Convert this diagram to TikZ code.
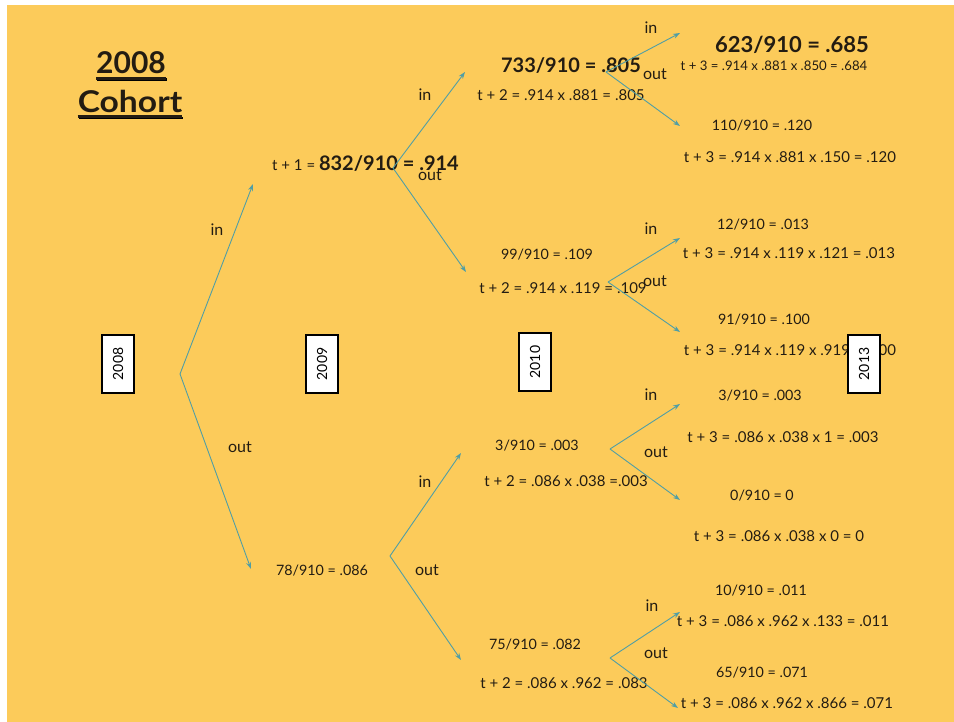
\documentclass[tikz,border=0pt]{standalone}
\usepackage{fontspec}
\setmainfont{Lato}
\usetikzlibrary{arrows.meta}
\definecolor{bg}{RGB}{252,203,90}
\definecolor{ink}{RGB}{35,28,18}
\definecolor{arr}{RGB}{80,158,165}
\definecolor{shade}{RGB}{150,125,70}
\begin{document}
\begin{tikzpicture}[x=1pt,y=-1pt,
  small/.style={font=\fontsize{15}{18}\selectfont, text=ink, inner sep=0pt},
  frac/.style={font=\fontsize{14.3}{17}\selectfont, text=ink, inner sep=0pt},
  tiny/.style={font=\fontsize{13.2}{16}\selectfont, text=ink, inner sep=0pt},
  bigA/.style={font=\fontsize{20}{24}\selectfont\bfseries, text=ink, inner sep=0pt},
  bigB/.style={font=\fontsize{22}{26}\selectfont\bfseries, text=ink, inner sep=0pt},
  lab/.style={font=\fontsize{16}{19}\selectfont, text=ink, inner sep=0pt},
  titletext/.style={font=\fontsize{30}{34}\selectfont\bfseries, text=ink, inner sep=0pt},
  yearbox/.style={draw=black, line width=1.6pt, fill=white, rotate=90, minimum width=58pt, minimum height=32pt, font=\fontsize{14}{16}\selectfont, inner sep=0pt},
  branch/.style={draw=arr, line width=0.9pt, -{Stealth[length=7pt,width=5pt]}},
  uline/.style={line width=2.6pt, ink},
  ushade/.style={line width=2.6pt, shade},
]
\useasboundingbox (0,0) rectangle (954,722);
\fill[white] (0,0) rectangle (954,722);
\fill[bg] (7,5) rectangle (954,722);

% title
\node[titletext] (t1) at (131,63) {2008};
\node[titletext, xscale=1.12] (t2) at (130,101) {Cohort};
\draw[ushade] ([shift={(1,5.5)}]t1.south west) -- ([shift={(1,5.5)}]t1.south east);
\draw[uline] ([shift={(0,4)}]t1.south west) -- ([shift={(0,4)}]t1.south east);
\draw[ushade] ([shift={(1,5.5)}]t2.south west) -- ([shift={(1,5.5)}]t2.south east);
\draw[uline] ([shift={(0,4)}]t2.south west) -- ([shift={(0,4)}]t2.south east);

% branch vertices and ends
\coordinate (v0) at (180,374);
\coordinate (e0in) at (253,184);
\coordinate (e0out) at (251,569);
\coordinate (v1) at (393,168);
\coordinate (e1in) at (465,72);
\coordinate (e1out) at (466,272);
\coordinate (v2) at (390,556);
\coordinate (e2in) at (461,453);
\coordinate (e2out) at (461,660);
\coordinate (vA) at (606,72);
\coordinate (eAin) at (680,33);
\coordinate (eAout) at (680,126);
\coordinate (vB) at (608,282);
\coordinate (eBin) at (680,238);
\coordinate (eBout) at (680,332);
\coordinate (vC) at (610,449);
\coordinate (eCin) at (680,404);
\coordinate (eCout) at (680,500);
\coordinate (vD) at (610,658);
\coordinate (eDin) at (680,612);
\coordinate (eDout) at (678,708);

% texts
\node[small, anchor=west] (n1) at (272,164) {t + 1 = {\fontsize{20}{24}\selectfont\bfseries 832/910 = .914}};
\node[frac] (n2) at (322,571) {78/910 = .086};

\node[bigA] (a1) at (571,66) {733/910 = .805};
\node[small] (a2) at (561,95) {t + 2 = .914 x .881 = .805};
\node[frac] (b1) at (547,255) {99/910 = .109};
\node[small] (b2) at (563,288) {t + 2 = .914 x .119 = .109};
\node[frac] (c1) at (537,446) {3/910 = .003};
\node[small] (c2) at (566,481) {t + 2 = .086 x .038 =.003};
\node[frac] (d1) at (535,645) {75/910 = .082};
\node[small] (d2) at (564,683) {t + 2 = .086 x .962 = .083};

\node[bigB] (aa1) at (792,45) {623/910 = .685};
\node[tiny] (aa2) at (774,66) {t + 3 = .914 x .881 x .850 = .684};
\node[frac] (ab1) at (762,126) {110/910 = .120};
\node[small] (ab2) at (790,157) {t + 3 = .914 x .881 x .150 = .120};
\node[frac] (ba1) at (763,225) {12/910 = .013};
\node[small] (ba2) at (789,253) {t + 3 = .914 x .119 x .121 = .013};
\node[frac] (bb1) at (764,320) {91/910 = .100};
\node[small] (bb2) at (790,350) {t + 3 = .914 x .119 x .919 = .100};
\node[frac] (ca1) at (760,396) {3/910 = .003};
\node[small] (ca2) at (783,437) {t + 3 = .086 x .038 x 1 = .003};
\node[frac] (cb1) at (762,496) {0/910 = 0};
\node[small] (cb2) at (779,536) {t + 3 = .086 x .038 x 0 = 0};
\node[frac] (da1) at (761,591) {10/910 = .011};
\node[small] (da2) at (783,621) {t + 3 = .086 x .962 x .133 = .011};
\node[frac] (db1) at (762,673) {65/910 = .071};
\node[small] (db2) at (787,703) {t + 3 = .086 x .962 x .866 = .071};

% connectors
\draw[branch] (v0) -- (e0in);
\draw[branch] (v0) -- (e0out);
\draw[branch] (v1) -- (e1in);
\draw[branch] (v1) -- (e1out);
\draw[branch] (v2) -- (e2in);
\draw[branch] (v2) -- (e2out);
\draw[branch] (vA) -- (eAin);
\draw[branch] (vA) -- (eAout);
\draw[branch] (vB) -- (eBin);
\draw[branch] (vB) -- (eBout);
\draw[branch] (vC) -- (eCin);
\draw[branch] (vC) -- (eCout);
\draw[branch] (vD) -- (eDin);
\draw[branch] (vD) -- (eDout);

% in/out labels
\node[lab] (l0in) at (217,230) {in};
\node[lab] (l0out) at (240,447) {out};
\node[lab] (l1in) at (425,95) {in};
\node[lab] (l1out) at (430,175) {out};
\node[lab] (l2in) at (425,482) {in};
\node[lab] (l2out) at (427,570) {out};
\node[lab] (lAin) at (651,28) {in};
\node[lab] (lAout) at (655,74) {out};
\node[lab] (lBin) at (651,229) {in};
\node[lab] (lBout) at (655,281) {out};
\node[lab] (lCin) at (651,395) {in};
\node[lab] (lCout) at (656,452) {out};
\node[lab] (lDin) at (652,606) {in};
\node[lab] (lDout) at (656,653) {out};

% year boxes
\node[yearbox] (y2008) at (118,364) {2008};
\node[yearbox] (y2009) at (322,364) {2009};
\node[yearbox] (y2010) at (535,362) {2010};
\node[yearbox] (y2013) at (864,364) {2013};
\end{tikzpicture}
\end{document}
